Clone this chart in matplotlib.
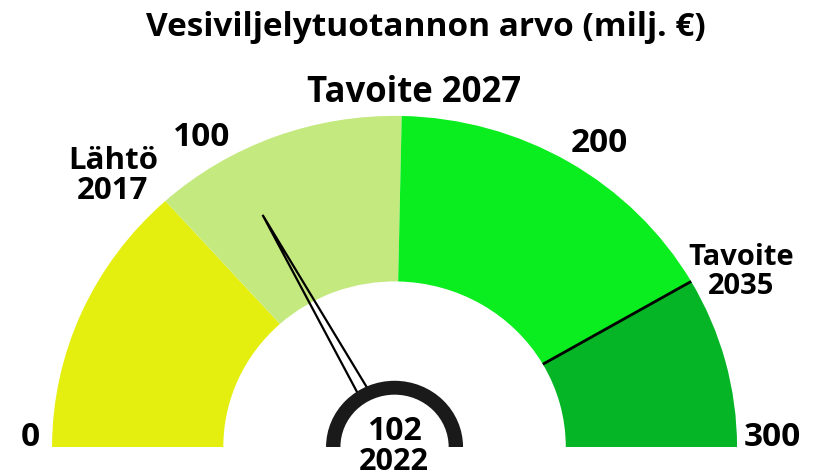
import numpy as np
import matplotlib
matplotlib.use('Agg')
from matplotlib import pyplot as plt
from matplotlib.patches import Wedge, Polygon

# gauge scale and bands (milj. €)
scale_max = 300
band_edges = [0, 80, 152, 250, 300]
band_colors = ['#e5ef0f', '#c4e97f', '#0aed1f', '#05b526']
tick_values = [0, 100, 200, 300]
tick_labels = ['0', '100', '200', '300']
marker_labels = ['Lähtö\n2017', 'Tavoite 2027', 'Tavoite\n2035']
current_value = 102
current_year = 2022

plt.rcParams['font.family'] = ['Open Sans', 'DejaVu Sans']


def angle_of(v):
    return 180.0 - 180.0 * v / scale_max


fig = plt.figure(figsize=(8.23, 4.76), dpi=100)
ax = fig.add_axes([0, 0, 1, 1])
ax.set_xlim(-1.152, 1.251)
ax.set_ylim(-0.0876, 1.350)
ax.axis('off')

r_out, r_in = 1.0, 0.5
for lo, hi, col in zip(band_edges[:-1], band_edges[1:], band_colors):
    ax.add_patch(Wedge((0, 0), r_out, angle_of(hi), angle_of(lo),
                       width=r_out - r_in, facecolor=col, edgecolor='none'))

# line marking the 2035 target
a = np.radians(angle_of(band_edges[3]))
ax.plot([r_in * np.cos(a), r_out * np.cos(a)], [r_in * np.sin(a), r_out * np.sin(a)],
        color='black', lw=2, solid_capstyle='butt')

# needle
a = np.radians(angle_of(current_value))
d = np.array([np.cos(a), np.sin(a)])
n = np.array([-np.sin(a), np.cos(a)])
tip = d * 0.80
base = d * 0.195
ax.add_patch(Polygon([base + n * 0.016, tip, base - n * 0.016], closed=True,
                     facecolor='none', edgecolor='black', lw=1.6, joinstyle='miter'))

# hub
ax.add_patch(Wedge((0, 0), 0.2, 0, 180, width=0.042, facecolor='#1a1a1a', edgecolor='none'))

txt = dict(fontweight='bold', color='black', ha='center', va='center')
fig.text(426 / 823, 1 - 28 / 476, 'Vesiviljelytuotannon arvo (milj. €)', fontsize=24, **txt)
fig.text(414 / 823, 1 - 93 / 476, marker_labels[1], fontsize=25, **txt)
fig.text(113 / 823, 1 - 176 / 476, marker_labels[0], fontsize=22.5, linespacing=1.0, **txt)
fig.text(741 / 823, 1 - 272 / 476, marker_labels[2], fontsize=21, linespacing=1.0, **txt)

tick_pos = [(30, 437), (202, 137), (599, 143), (772, 437)]
for lab, (x, y) in zip(tick_labels, tick_pos):
    fig.text(x / 823, 1 - y / 476, lab, fontsize=24, **txt)

fig.text(394 / 823, 1 - 431 / 476, str(current_value), fontsize=23, **txt)
fig.text(394 / 823, 1 - 462 / 476, str(current_year), fontsize=22, **txt)

fig.savefig('out.png', dpi=100)
